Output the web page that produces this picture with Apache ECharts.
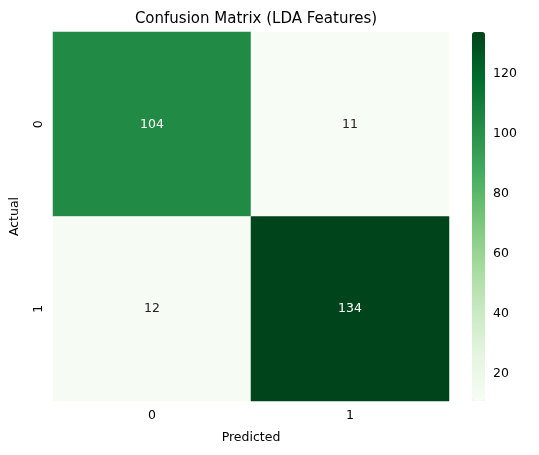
<!DOCTYPE html><html><head><meta charset="utf-8"><script src="https://cdn.jsdelivr.net/npm/echarts@6/dist/echarts.min.js"></script></head><body style="margin:0"><div id="c" style="width:539px;height:455px"></div><script>
const xCats=['0','1'];
const yCats=['0','1'];
const matrix=[[104,11],[12,134]]; // rows: actual, cols: predicted
const cbTicks=[20,40,60,80,100,120];
const vmin=11,vmax=134;
const greens=['#f7fcf5','#e5f5e0','#c7e9c0','#a1d99b','#74c476','#41ab5d','#238b45','#006d2c','#00441b'];
const data=[];
matrix.forEach((row,r)=>row.forEach((v,c)=>data.push({value:[c,r,v],label:{color:v>70?'#fff':'#222'}})));
const ch=echarts.init(document.getElementById('c'));
const font='DejaVu Sans';
ch.setOption({
textStyle:{fontFamily:font},
title:{text:'Confusion Matrix (LDA Features)',left:251,top:7,textAlign:'center',textStyle:{fontFamily:font,fontSize:15,fontWeight:'normal',color:'#000'}},
grid:[{left:53,top:32,width:396,height:369},{left:472,top:32,width:13,height:369}],
xAxis:[{type:'category',data:xCats,gridIndex:0,name:'Predicted',nameLocation:'middle',nameGap:30,nameTextStyle:{color:'#000',fontSize:12.5},axisLine:{show:false},axisTick:{length:4,lineStyle:{color:'#000'}},axisLabel:{color:'#000',fontSize:12.5},splitLine:{show:false}},
{type:'value',gridIndex:1,show:false,min:0,max:1}],
yAxis:[{type:'category',data:yCats,inverse:true,gridIndex:0,name:'Actual',nameLocation:'middle',nameGap:32,nameTextStyle:{color:'#000',fontSize:12.5},axisLine:{show:false},axisTick:{length:4,lineStyle:{color:'#000'}},axisLabel:{color:'#000',fontSize:12.5,rotate:90}},
{type:'value',gridIndex:1,position:'right',min:vmin,max:vmax,axisLine:{show:false},splitLine:{show:false},axisTick:{show:true,length:4,lineStyle:{color:'#000'},customValues:cbTicks},axisLabel:{color:'#000',fontSize:12.5,customValues:cbTicks,margin:8}}],
visualMap:{type:'continuous',min:vmin,max:vmax,seriesIndex:0,left:472,top:32,itemWidth:13,itemHeight:369,padding:0,text:['',''],calculable:false,showLabel:false,inRange:{color:greens}},
series:[{type:'heatmap',xAxisIndex:0,yAxisIndex:0,data:data,label:{show:true,fontSize:12.5,formatter:p=>p.value[2]}}]
});
</script></body></html>
